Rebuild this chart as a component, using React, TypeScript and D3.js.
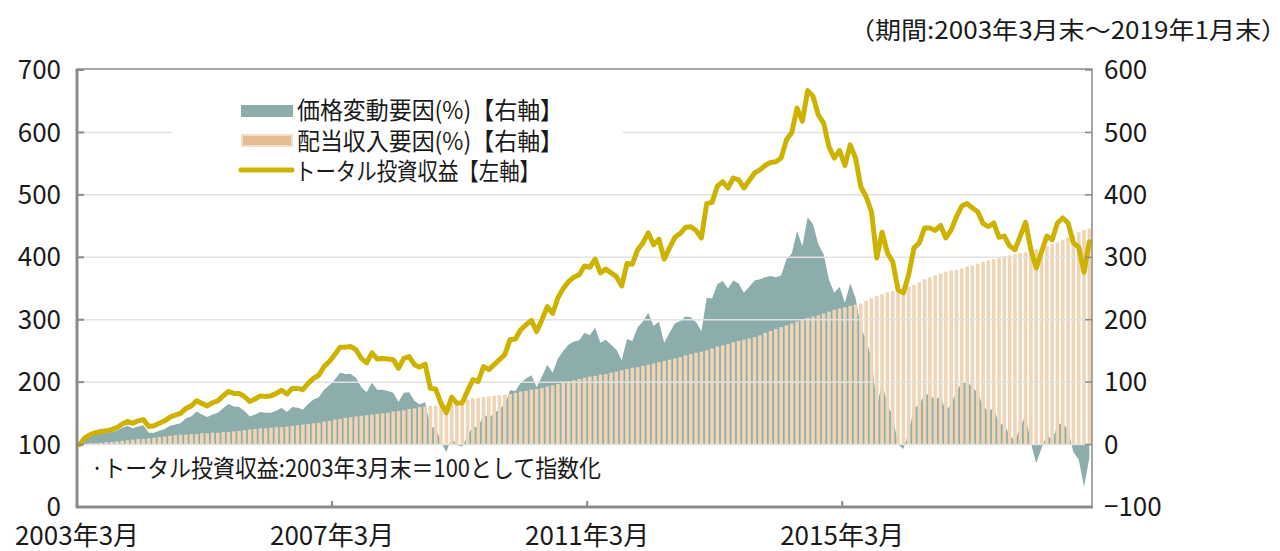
import * as d3 from "d3";

// total return index (left axis, 2003/3 = 100), monthly 2003/3 - 2019/1
const TOTAL = [
  100, 111, 116, 119, 121, 122, 124, 127, 133, 137,
  134, 138, 140, 129, 130, 134, 138, 144, 147, 150,
  158, 162, 170, 166, 162, 167, 170, 178, 185, 182,
  182, 177, 169, 173, 178, 177, 178, 182, 187, 181,
  190, 190, 188, 198, 206, 211, 225, 233, 244, 256,
  256, 257, 252, 238, 231, 247, 237, 238, 237, 236,
  222, 238, 241, 228, 224, 229, 190, 189, 166, 151,
  176, 166, 167, 186, 204, 201, 225, 220, 228, 236,
  244, 268, 269, 284, 292, 299, 281, 300, 321, 310,
  335, 350, 361, 368, 372, 386, 384, 397, 375, 381,
  375, 369, 354, 390, 389, 412, 423, 439, 420, 429,
  397, 415, 432, 438, 448, 449, 443, 431, 486, 488,
  514, 521, 511, 527, 524, 511, 523, 535, 540, 547,
  552, 553, 559, 588, 600, 639, 618, 667, 658, 628,
  615, 577, 559, 571, 547, 580, 559, 513, 497, 473,
  399, 440, 407, 393, 348, 343, 372, 415, 423, 447,
  447, 443, 451, 431, 444, 465, 482, 486, 479, 473,
  454, 449, 455, 432, 434, 418, 412, 434, 456, 412,
  383, 409, 434, 428, 455, 463, 455, 423, 416, 376,
  425,
];

// dividend income factor (%), right axis
const DIVIDEND = [
  0, 1, 2, 2, 3, 4, 4, 5, 6, 7,
  8, 9, 9, 10, 11, 12, 13, 14, 15, 16,
  16, 17, 17, 18, 18, 19, 19, 20, 20, 21,
  22, 23, 24, 25, 26, 26, 27, 28, 28, 29,
  30, 31, 32, 33, 34, 35, 37, 38, 40, 41,
  43, 44, 45, 46, 47, 48, 49, 50, 51, 53,
  54, 55, 57, 58, 60, 61, 62, 62, 62, 63,
  65, 67, 70, 72, 74, 75, 76, 77, 78, 79,
  80, 81, 83, 85, 86, 88, 89, 91, 93, 95,
  97, 100, 101, 103, 105, 107, 109, 110, 112, 113,
  115, 117, 119, 121, 123, 124, 126, 128, 130, 132,
  134, 136, 138, 140, 143, 145, 147, 149, 151, 154,
  157, 159, 161, 164, 166, 168, 170, 172, 175, 179,
  182, 185, 188, 191, 194, 197, 200, 203, 205, 207,
  210, 213, 216, 218, 220, 222, 224, 226, 230, 234,
  238, 241, 244, 246, 248, 250, 253, 256, 260, 265,
  268, 271, 274, 277, 279, 280, 282, 285, 287, 290,
  293, 295, 297, 299, 302, 303, 305, 307, 308, 310,
  313, 315, 318, 321, 324, 328, 332, 335, 340, 344,
  346,
];

// price change factor (%), right axis
const PRICE = [
  0, 10, 14, 17, 18, 18, 20, 22, 27, 30,
  26, 29, 31, 19, 19, 22, 25, 30, 32, 34,
  42, 45, 53, 48, 44, 48, 51, 58, 65, 61,
  60, 54, 45, 48, 52, 51, 51, 54, 59, 52,
  60, 59, 56, 65, 72, 76, 88, 95, 104, 115,
  113, 113, 107, 92, 84, 99, 88, 88, 86, 83,
  68, 83, 84, 70, 64, 68, 28, 27, 4, -12,
  11, -1, -3, 14, 30, 26, 49, 43, 50, 57,
  64, 87, 86, 99, 106, 111, 92, 109, 128, 115,
  138, 150, 160, 165, 167, 179, 175, 187, 163, 168,
  160, 152, 135, 169, 166, 188, 197, 211, 190, 197,
  163, 179, 194, 198, 205, 204, 196, 182, 235, 234,
  257, 262, 250, 263, 258, 243, 253, 263, 265, 268,
  270, 268, 271, 297, 306, 342, 318, 364, 353, 321,
  305, 264, 243, 253, 227, 258, 235, 187, 167, 139,
  61, 99, 63, 47, 0, -7, 19, 59, 63, 82,
  79, 72, 77, 54, 65, 85, 100, 101, 92, 83,
  61, 54, 58, 33, 32, 15, 7, 27, 48, 2,
  -30, -6, 16, 7, 31, 35, 23, -12, -24, -68,
  -21,
];

const X_TICK_INDEX = [0, 48, 96, 144];
const X_TICK_LABELS = ["2003年3月", "2007年3月", "2011年3月", "2015年3月"];
const LEFT_TICKS = [0, 100, 200, 300, 400, 500, 600, 700];
const RIGHT_TICKS = [-100, 0, 100, 200, 300, 400, 500, 600];
const LEGEND_LABELS = ["価格変動要因(%)【右軸】", "配当収入要因(%)【右軸】", "トータル投資収益【左軸】"];

const FONT = "'Noto Sans CJK JP', 'Noto Sans', sans-serif";

export default function App() {
  const plot = { left: 77, right: 1092, top: 70, bottom: 507 };

  const idx = d3.range(TOTAL.length);
  const x = d3
    .scaleBand<number>()
    .domain(idx)
    .range([plot.left, plot.right])
    .paddingInner(0.32)
    .paddingOuter(0.16);
  const cx = (i: number) => (x(i) as number) + x.bandwidth() / 2;
  const tickX = (i: number) => (x(i) as number) - (x.step() - x.bandwidth()) / 2;

  const yL = d3.scaleLinear().domain([0, 700]).range([plot.bottom, plot.top]);
  const yR = d3.scaleLinear().domain([-100, 600]).range([plot.bottom, plot.top]);

  const area = d3
    .area<number>()
    .x((d, i) => cx(i))
    .y0(yR(0))
    .y1((d) => yR(d));
  const line = d3
    .line<number>()
    .x((d, i) => cx(i))
    .y((d) => yL(d));

  const axisColor = "#8a8a8a";
  const textColor = "#1a1a1a";
  const legendWidths = [266, 266, 245];

  return (
    <svg
      width={1280}
      height={551}
      style={{ position: "absolute", left: 0, top: 0, fontFamily: FONT }}
    >
      <rect width={1280} height={551} fill="#fff" />

      {/* price factor area */}
      <path d={area(PRICE) || ""} fill="#8CADAC" />

      {/* dividend bars */}
      {DIVIDEND.map((d, i) => (
        <rect
          key={i}
          x={x(i)}
          width={x.bandwidth()}
          y={Math.min(yR(d), yR(0))}
          height={Math.abs(yR(0) - yR(d))}
          fill="#EFD4B6"
        />
      ))}

      {/* gridlines */}
      {LEFT_TICKS.filter((t) => t > 0 && t < 700).map((t) => (
        <line
          key={t}
          x1={plot.left}
          x2={plot.right}
          y1={yL(t)}
          y2={yL(t)}
          stroke="#e2e2e2"
          strokeWidth={1.5}
        />
      ))}

      {/* legend */}
      <rect x={172} y={93} width={451} height={94} fill="#fff" />
      <rect x={241} y={105} width={52} height={12} fill="#8CADAC" />
      <rect x={242} y={135} width={50} height={11} fill="#E4BC94" stroke="#F3DDC8" strokeWidth={2} />
      <line x1={241} x2={292} y1={170} y2={170} stroke="#CDB300" strokeWidth={5} strokeLinecap="round" />
      {LEGEND_LABELS.map((s, k) => (
        <text
          key={s}
          x={k === 2 ? 295 : 297}
          y={111 + k * 30.5}
          dy="0.35em"
          fontSize={24}
          fill={textColor}
          textLength={legendWidths[k]}
          lengthAdjust="spacingAndGlyphs"
        >
          {s}
        </text>
      ))}

      {/* total return line */}
      <path
        d={line(TOTAL) || ""}
        fill="none"
        stroke="#CDB300"
        strokeWidth={5}
        strokeLinejoin="round"
        strokeLinecap="round"
      />

      {/* frame */}
      <rect
        x={plot.left}
        y={plot.top - 1}
        width={plot.right - plot.left}
        height={plot.bottom - plot.top + 1}
        fill="none"
        stroke={axisColor}
        strokeWidth={1.5}
      />
      <line x1={plot.left} x2={plot.left} y1={plot.top - 1} y2={plot.bottom + 1} stroke={axisColor} strokeWidth={3} />
      <line x1={plot.left - 1} x2={plot.right + 1} y1={plot.bottom} y2={plot.bottom} stroke={axisColor} strokeWidth={3} />

      {/* left ticks + labels */}
      {LEFT_TICKS.map((t) => (
        <g key={t}>
          <line x1={plot.left} x2={plot.left + 7} y1={yL(t)} y2={yL(t)} stroke={axisColor} strokeWidth={2} />
          <text x={61} y={yL(t)} dy="0.35em" textAnchor="end" fontSize={26} fill={textColor}>
            {t}
          </text>
        </g>
      ))}

      {/* right ticks + labels */}
      {RIGHT_TICKS.map((t) => (
        <g key={t}>
          <line x1={plot.right - 7} x2={plot.right} y1={yR(t)} y2={yR(t)} stroke={axisColor} strokeWidth={1.5} />
          <text x={1104} y={yR(t)} dy="0.35em" textAnchor="start" fontSize={26} fill={textColor}>
            {t < 0 ? `−${Math.abs(t)}` : t}
          </text>
        </g>
      ))}

      {/* x ticks + labels */}
      {X_TICK_INDEX.map((i, k) => (
        <g key={i}>
          {i > 0 && (
            <line x1={tickX(i)} x2={tickX(i)} y1={plot.bottom} y2={plot.bottom - 6} stroke={axisColor} strokeWidth={2} />
          )}
          <text x={tickX(i)} y={545} textAnchor="middle" fontSize={26} fill={textColor}>
            {X_TICK_LABELS[k]}
          </text>
        </g>
      ))}

      {/* notes */}
      <text
        x={91}
        y={477}
        fontSize={24}
        fill={textColor}
        textLength={510}
        lengthAdjust="spacingAndGlyphs"
      >
        ·トータル投資収益:2003年3月末＝100として指数化
      </text>
      <text
        x={849}
        y={39}
        fontSize={24}
        fill={textColor}
        textLength={438}
        lengthAdjust="spacingAndGlyphs"
      >
        （期間:2003年3月末～2019年1月末）
      </text>
    </svg>
  );
}
